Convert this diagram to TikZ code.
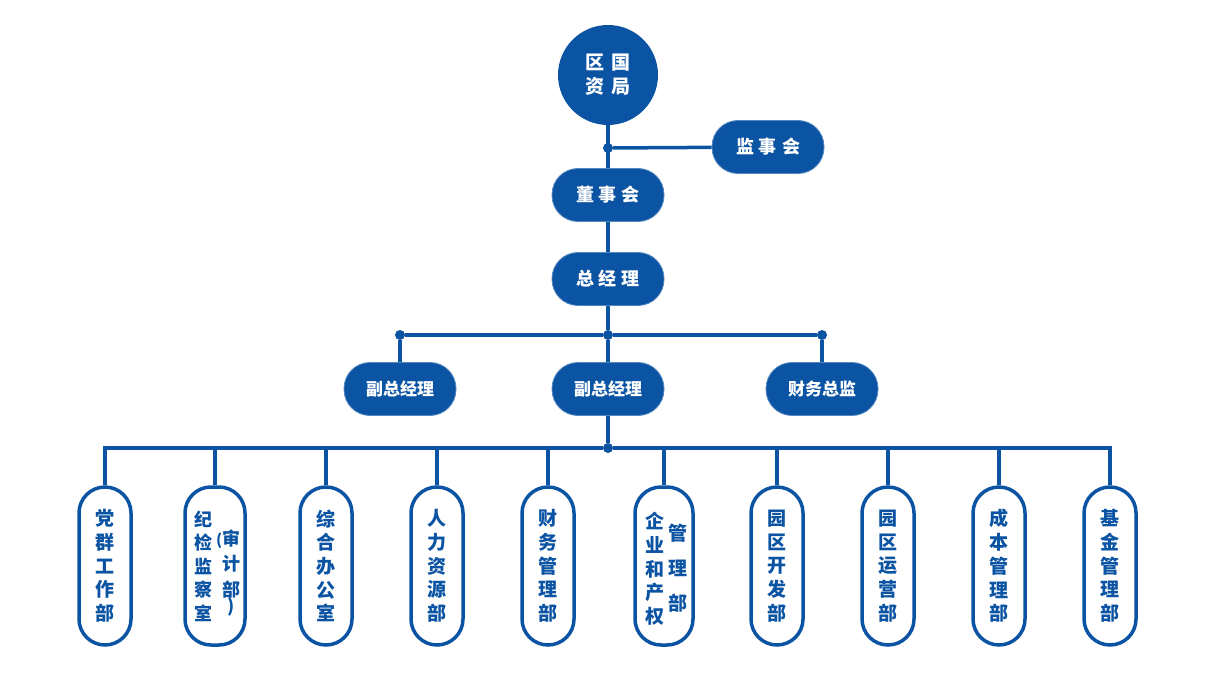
\documentclass[tikz,border=0pt]{standalone}
\usepackage{fontspec}
\newfontfamily\cjk{Noto Sans CJK SC}
\definecolor{orgblue}{RGB}{11,83,163}
\tikzset{
  link/.style={draw=orgblue, line width=3.5pt},
  hub/.style={circle, fill=orgblue, inner sep=0pt, minimum size=10pt},
  boss/.style={fill=orgblue, draw=orgblue!70!white, line width=.8pt, rounded corners=26pt,
    minimum width=112pt, minimum height=53pt, text=white, font=\cjk\bfseries\fontsize{18}{20}\selectfont},
  dept/.style={draw=orgblue, line width=3.5pt, fill=white, rounded corners=26pt,
    minimum width=52pt, minimum height=158pt},
  vtext/.style={text=orgblue, align=center, inner sep=0pt, font=\cjk\bfseries\fontsize{19}{23.7}\selectfont}
}
\begin{document}
\begin{tikzpicture}[x=1pt,y=-1pt]
\useasboundingbox (0,0) rectangle (1209,684);
% top of the chart
\node[circle, fill=orgblue, minimum size=100pt, align=center, text=white,
  font=\cjk\bfseries\fontsize{19}{24}\selectfont] (bureau) at (608,75) {区\hspace{7pt}国\\资\hspace{7pt}局};
\node[boss] (sup) at (768,147) {监\hspace{5pt}事\hspace{5pt}会};
\node[boss] (board) at (608,195) {董\hspace{5pt}事\hspace{5pt}会};
\node[boss] (ceo) at (608,279) {总\hspace{5pt}经\hspace{5pt}理};
\node[boss, font=\cjk\bfseries\fontsize{17}{20}\selectfont] (vp1) at (400,389) {副总经理};
\node[boss, font=\cjk\bfseries\fontsize{17}{20}\selectfont] (vp2) at (608,389) {副总经理};
\node[boss, font=\cjk\bfseries\fontsize{17}{20}\selectfont] (cfo) at (822,389) {财务总监};
\node[hub] (j1) at (608,148) {};
\node[hub] (j2) at (608,335) {};
\node[hub] (jl) at (400,335) {};
\node[hub] (jr) at (822,335) {};
\node[hub] (j3) at (608,448) {};
% departments
\foreach \x/\w [count=\i] in {105/52, 215/60, 326/52, 437/52, 548/52, 664/58, 777/52, 888/52, 999/52, 1110/52}
  \node[dept, minimum width=\w pt] (d\i) at (\x,566) {};
\foreach \x/\t [count=\i] in {105/党\\群\\工\\作\\部, 326/综\\合\\办\\公\\室, 437/人\\力\\资\\源\\部,
    548/财\\务\\管\\理\\部, 777/园\\区\\开\\发\\部, 888/园\\区\\运\\营\\部, 999/成\\本\\管\\理\\部, 1110/基\\金\\管\\理\\部}
  \node[vtext] (t\i) at (\x,566) {\t};
\node[vtext, font=\cjk\bfseries\fontsize{18}{23.5}\selectfont] (t9) at (203,566) {纪\\检\\监\\察\\室};
\node[vtext, font=\cjk\bfseries\fontsize{18}{25.5}\selectfont] (t10) at (231,573) {\llap{\fontsize{15}{15}\selectfont(}审\\计\\部\\[-9pt])};
\node[vtext] (t11) at (655,569) {企\\业\\和\\产\\权};
\node[vtext, font=\cjk\bfseries\fontsize{19}{35}\selectfont] (t12) at (678,568) {管\\理\\部};
% connectors
\draw[link] (bureau) -- (board);
\draw[link] (j1) -- (sup);
\draw[link] (board) -- (ceo);
\draw[link] (ceo) -- (j2);
\draw[link] (j2) -- (jl);
\draw[link] (j2) -- (jr);
\draw[link] (jl) -- (vp1);
\draw[link] (jr) -- (cfo);
\draw[link] (j2) -- (vp2);
\draw[link] (vp2) -- (j3);
\foreach \i in {1,...,10}
  \draw[link] (j3) -| (d\i.north);
\end{tikzpicture}
\end{document}
